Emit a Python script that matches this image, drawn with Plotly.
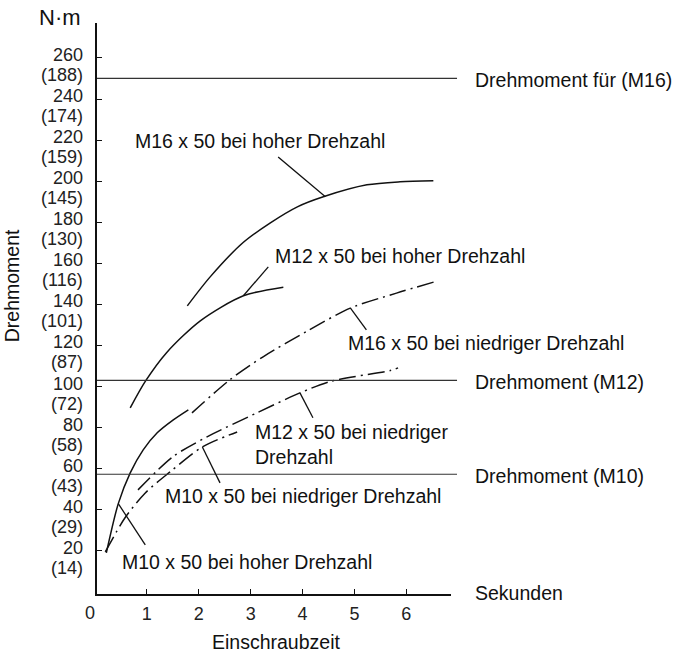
import plotly.graph_objects as go

# ---------------- data ----------------
x_m16_high = [1.78, 2.22, 2.85, 3.38, 3.90, 4.40, 5.24, 5.88, 6.52]
y_m16_high = [139.3, 153.4, 170.0, 179.7, 187.5, 192.4, 198.2, 199.7, 200.2]

x_m12_high = [0.68, 0.97, 1.38, 2.03, 2.86, 3.63]
y_m12_high = [89.6, 102.5, 116.5, 132.0, 144.2, 148.4]

x_m10_high = [0.22, 0.45, 0.68, 0.93, 1.20, 1.51, 1.80]
y_m10_high = [19.0, 43.0, 58.0, 69.2, 77.5, 83.8, 88.7]

x_m16_low = [1.87, 2.60, 3.24, 4.09, 4.92, 5.81, 6.56]
y_m16_low = [87.2, 103.3, 114.5, 127.0, 138.2, 145.5, 151.1]

x_m12_low = [0.83, 1.50, 2.16, 3.12, 3.95, 4.55, 5.69, 5.84]
y_m12_low = [49.7, 65.8, 75.5, 87.2, 96.9, 102.6, 107.8, 109.1]

x_m10_low = [0.20, 0.58, 0.97, 1.45, 2.07, 2.74]
y_m10_low = [19.5, 36.1, 48.2, 58.5, 70.6, 77.9]

# reference torque lines
ref_values = [250, 103, 57.3]
ref_labels = ["Drehmoment für (M16)", "Drehmoment (M12)", "Drehmoment (M10)"]

# y tick labels (N·m and parenthesised values)
y_ticks = [20, 40, 60, 80, 100, 120, 140, 160, 180, 200, 220, 240, 260]
y_ticks_alt = [14, 29, 43, 58, 72, 87, 101, 116, 130, 145, 159, 174, 188]
x_ticks = [1, 2, 3, 4, 5, 6]

# curve labels: text, x, y (data) and leader line (x0,y0)->(x1,y1)
curve_labels = [
    ("M16 x 50 bei hoher Drehzahl", 0.73, 219.5, (3.53, 211.8), (4.44, 192.4)),
    ("M12 x 50 bei hoher Drehzahl", 3.43, 163.6, (3.34, 158.3), (2.86, 144.2)),
    ("M16 x 50 bei niedriger Drehzahl", 4.84, 121.2, (5.23, 127.6), (4.92, 138.3)),
    ("M12 x 50 bei niedriger<br>Drehzahl", 3.05, 71.8, (4.20, 84.8), (3.95, 96.9)),
    ("M10 x 50 bei niedriger Drehzahl", 1.31, 46.7, (2.41, 53.1), (2.07, 70.6)),
    ("M10 x 50 bei hoher Drehzahl", 0.48, 14.6, (0.97, 22.9), (0.45, 43.0)),
]

FONT = "Liberation Sans, Arial, Helvetica, sans-serif"
DASHDOT = "17px,5px,2px,5px"

fig = go.Figure()

def add_curve(xs, ys, dash):
    fig.add_trace(go.Scatter(
        x=xs, y=ys, mode="lines",
        line=dict(color="#111", width=1.5, dash=dash, shape="spline", smoothing=0.8),
        showlegend=False, hoverinfo="skip"))

add_curve(x_m16_high, y_m16_high, "solid")
add_curve(x_m12_high, y_m12_high, "solid")
add_curve(x_m10_high, y_m10_high, "solid")
add_curve(x_m16_low, y_m16_low, DASHDOT)
add_curve(x_m12_low, y_m12_low, DASHDOT)
add_curve(x_m10_low, y_m10_low, DASHDOT)

shapes = []
annotations = []

# reference lines + labels
for v, lab in zip(ref_values, ref_labels):
    shapes.append(dict(type="line", xref="paper", yref="y", x0=0, x1=1.017, y0=v, y1=v,
                       line=dict(color="#333", width=1.2)))
    annotations.append(dict(text=lab, xref="paper", yref="y", x=1.062, y=v, yshift=-2,
                            xanchor="left", yanchor="middle", showarrow=False,
                            font=dict(size=19.5, family=FONT, color="#111")))

# curve labels and leader lines
for text, tx, ty, p0, p1 in curve_labels:
    annotations.append(dict(text=text, x=tx, y=ty, xref="x", yref="y",
                            xanchor="left", yanchor="middle", align="left", showarrow=False,
                            font=dict(size=19.5, family=FONT, color="#111")))
    shapes.append(dict(type="line", xref="x", yref="y", x0=p0[0], y0=p0[1], x1=p1[0], y1=p1[1],
                       line=dict(color="#111", width=1.3)))

# y tick labels
for v, alt in zip(y_ticks, y_ticks_alt):
    annotations.append(dict(text=str(v), xref="paper", yref="y", x=0, y=v, xshift=-12, yshift=3,
                            xanchor="right", yanchor="middle", showarrow=False,
                            font=dict(size=18, family=FONT, color="#222")))
    annotations.append(dict(text=f"({alt})", xref="paper", yref="y", x=0, y=v, xshift=-12, yshift=-17,
                            xanchor="right", yanchor="middle", showarrow=False,
                            font=dict(size=18, family=FONT, color="#222")))

# misc texts
annotations += [
    dict(text="N·m", xref="paper", yref="paper", x=-0.1045, y=1.0088, xanchor="center",
         yanchor="middle", showarrow=False, font=dict(size=22, family=FONT, color="#111")),
    dict(text="Drehmoment", xref="paper", yref="paper", x=-0.240, y=0.539, textangle=-90,
         xanchor="center", yanchor="middle", showarrow=False,
         font=dict(size=19.5, family=FONT, color="#111")),
    dict(text="Einschraubzeit", xref="paper", yref="paper", x=0.5056, y=-0.084,
         xanchor="center", yanchor="middle", showarrow=False,
         font=dict(size=19.5, family=FONT, color="#111")),
    dict(text="Sekunden", xref="paper", yref="paper", x=1.062, y=0.002,
         xanchor="left", yanchor="middle", showarrow=False,
         font=dict(size=19.5, family=FONT, color="#111")),
    dict(text="0", xref="paper", yref="paper", x=-0.0198, y=-0.0333,
         xanchor="center", yanchor="middle", showarrow=False,
         font=dict(size=18, family=FONT, color="#222")),
]

fig.update_layout(
    width=675, height=652,
    margin=dict(l=97, r=224, t=23, b=58),
    paper_bgcolor="white", plot_bgcolor="white",
    shapes=shapes, annotations=annotations,
    showlegend=False,
)
fig.update_xaxes(range=[0.04, 6.86], showline=True, linecolor="#111", linewidth=1.5,
                 showgrid=False, zeroline=False, ticks="inside", ticklen=5, tickwidth=1.3,
                 tickcolor="#111", tickvals=x_ticks, ticktext=[str(t) for t in x_ticks],
                 tickfont=dict(size=18, family=FONT, color="#222"), ticklabelstandoff=3)
fig.update_yaxes(range=[-1, 277], showline=True, linecolor="#111", linewidth=1.5,
                 showgrid=False, zeroline=False, ticks="inside", ticklen=5, tickwidth=1.3,
                 tickcolor="#111", tickvals=y_ticks, showticklabels=False)

fig.write_html("out.html")
